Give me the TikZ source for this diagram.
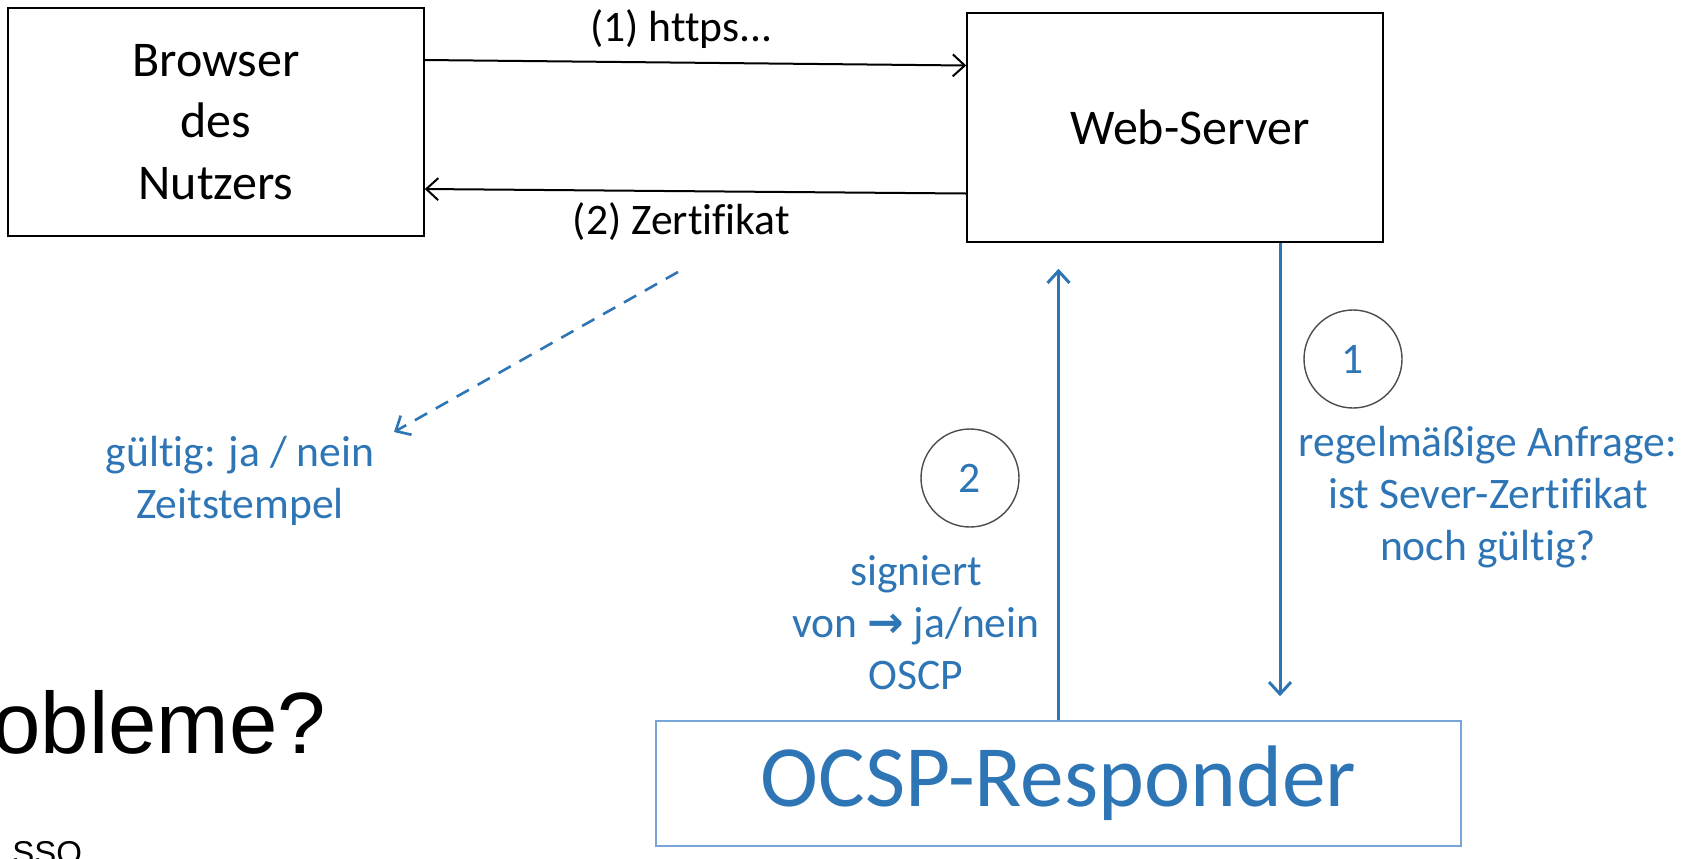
\documentclass[tikz,border=0pt]{standalone}
\usepackage{fontspec}
\setmainfont[Ligatures=NoCommon]{Carlito}
\newfontfamily\arialfont{Liberation Sans}
\newfontfamily\symfont{DejaVu Sans}
\usetikzlibrary{arrows.meta, positioning, calc}
\definecolor{ocspblue}{RGB}{46,117,182}
\definecolor{ocspline}{RGB}{120,165,215}
\tikzset{
  box/.style={rectangle, draw, line width=0.75pt, align=center,
              inner sep=0pt, font=\fontsize{25}{30.75}\selectfont},
  lbl/.style={font=\fontsize{21.8}{26}\selectfont},
  note/.style={align=center, text=ocspblue,
               font=\fontsize{21.8}{26}\selectfont},
  num/.style={circle, draw=black!70, line width=0.7pt, minimum size=49pt,
              inner sep=0pt, text=ocspblue, font=\fontsize{21.8}{26}\selectfont},
  arr/.style={-{Straight Barb[length=6pt, width=11pt]}, line width=1pt},
  barr/.style={arr, draw=ocspblue, line width=1.5pt},
  darr/.style={arr, draw=ocspblue, line width=1.3pt, dash pattern=on 7pt off 5pt},
}

\begin{document}
\begin{tikzpicture}[x=0.5pt, y=-0.5pt]

  \useasboundingbox (0,0) rectangle (1692,858);
  \clip (0,0) rectangle (1692,858);

  \node[box, minimum width=208pt, minimum height=114pt] (browser) at (216,122)
    {Browser\\des\\Nutzers};
  \node[box, minimum width=208pt, minimum height=114.5pt] (web) at (1175,127.5)
    {\hspace*{15pt}Web-Server};
  \node[box, draw=ocspline, text=ocspblue, minimum width=402.5pt, minimum height=62.5pt,
        font=\fontsize{43.7}{50}\selectfont] (ocsp) at (1058.5,783.5) {OCSP-Responder};

  \draw[arr] ([yshift=31pt]browser.east) -- ([yshift=31pt]web.west)
    node[lbl, midway, yshift=16.75pt, xshift=-7pt] (https) {(1) https...};
  \draw[arr] ([yshift=-33pt]web.west) -- ([yshift=-33.5pt]browser.east)
    node[lbl, midway, yshift=-15.25pt, xshift=-7pt] (zert) {(2) Zertifikat};

  % Gueltigkeit beim Browser
  \coordinate (dtail) at (678,272);
  \coordinate (dtip) at (394,432);
  \draw[darr] (dtail) -- (dtip);
  \node[note] (valid) at (240,481) {gültig: ja / nein\\Zeitstempel};

  % OCSP Anfrage und Antwort
  \coordinate (qtop) at ($(web.south)+(52.5pt,0)$);
  \coordinate (qbot) at ($(qtop |- ocsp.north)+(0,12pt)$);
  \coordinate (atop) at ($(ocsp.north |- web.south)+(0,-13pt)$);
  \draw[barr] (qtop) -- (qbot);
  \draw[barr] (ocsp.north) -- (atop);

  \node[num] (c1) at (1353,359) {1};
  \node[num] (c2) at (970,478) {2};
  \node[note] (ask) at (1488,497) {regelmäßige Anfrage:\\ist Sever-Zertifikat\\noch gültig?};
  \node[note] (sig) at (916,623) {signiert\\von {\symfont\bfseries →} ja/nein\\OSCP};

  \node[anchor=base west, inner sep=0pt, font=\arialfont\fontsize{43.5}{50}\selectfont]
    (prob) at (-8,753) {obleme?};
  \node[anchor=base west, inner sep=0pt, font=\arialfont\fontsize{16.5}{20}\selectfont]
    (sso) at (12,864) {SSO};

\end{tikzpicture}
\end{document}
